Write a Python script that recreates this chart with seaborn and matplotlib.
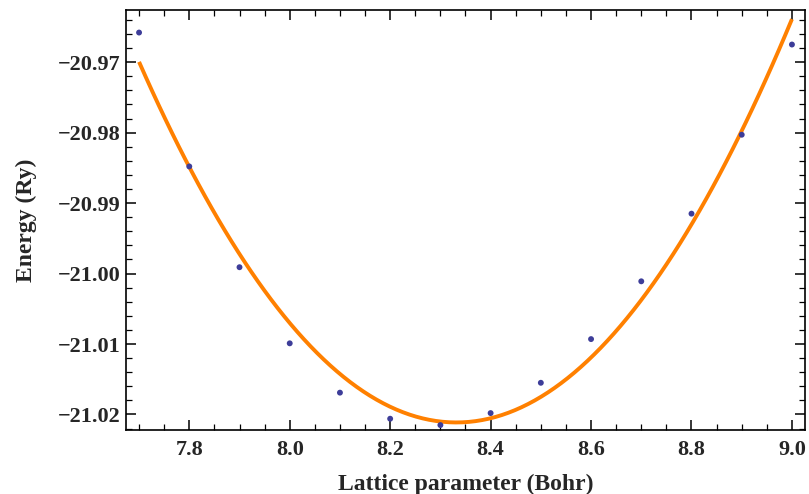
import numpy as np
import pandas as pd
import matplotlib
matplotlib.use("Agg")
import matplotlib.pyplot as plt
from matplotlib.ticker import MultipleLocator, FuncFormatter
import seaborn as sns

# Data
lattice = [7.7, 7.8, 7.9, 8.0, 8.1, 8.2, 8.3, 8.4, 8.5, 8.6, 8.7, 8.8, 8.9, 9.0]
energy = [-20.9658, -20.9848, -20.9991, -21.0099, -21.0169, -21.0206, -21.0215,
          -21.0198, -21.0155, -21.0093, -21.0011, -20.9915, -20.9803, -20.9675]

df = pd.DataFrame({"a": lattice, "E": energy})

sns.set_style("ticks")
plt.rcParams["font.family"] = ["Liberation Serif", "DejaVu Serif"]
plt.rcParams["font.weight"] = "bold"

fig = plt.figure(figsize=(8.09, 4.94), dpi=100)
ax = fig.add_axes([126 / 809, 1 - 430 / 494, (805 - 126) / 809, (430 - 10) / 494])

sns.regplot(data=df, x="a", y="E", order=2, ci=None, scatter=False, ax=ax,
            line_kws=dict(color="#ff8000", lw=2.8, solid_capstyle="butt", zorder=2))
sns.scatterplot(data=df, x="a", y="E", ax=ax, color="#3d3d99", s=18,
                edgecolor="none", zorder=3, legend=False)

ax.set_xlim(7.674, 9.026)
ax.set_ylim(-21.0222, -20.9626)

ax.xaxis.set_major_locator(MultipleLocator(0.2))
ax.xaxis.set_minor_locator(MultipleLocator(0.05))
ax.yaxis.set_major_locator(MultipleLocator(0.01))
ax.yaxis.set_minor_locator(MultipleLocator(0.002))
ax.xaxis.set_major_formatter(FuncFormatter(lambda v, p: f"{v:.1f}"))
ax.yaxis.set_major_formatter(FuncFormatter(lambda v, p: f"{v:.2f}".replace("-", "\u2212")))

ax.tick_params(which="both", direction="in", top=True, right=True, color="black")
ax.tick_params(which="major", length=7, width=1.1, labelsize=16)
ax.tick_params(axis="x", which="major", pad=7)
ax.tick_params(axis="y", which="major", pad=4)
ax.tick_params(which="minor", length=4, width=0.9)
for lbl in ax.get_xticklabels() + ax.get_yticklabels():
    lbl.set_fontweight("bold")

for sp in ax.spines.values():
    sp.set_visible(True)
    sp.set_color("black")
    sp.set_linewidth(1.2)

ax.set_xlabel("Lattice parameter (Bohr)", fontsize=17, fontweight="bold", labelpad=10)
ax.set_ylabel("Energy (Ry)", fontsize=17, fontweight="bold", labelpad=15)

fig.savefig("out.png", dpi=100)
